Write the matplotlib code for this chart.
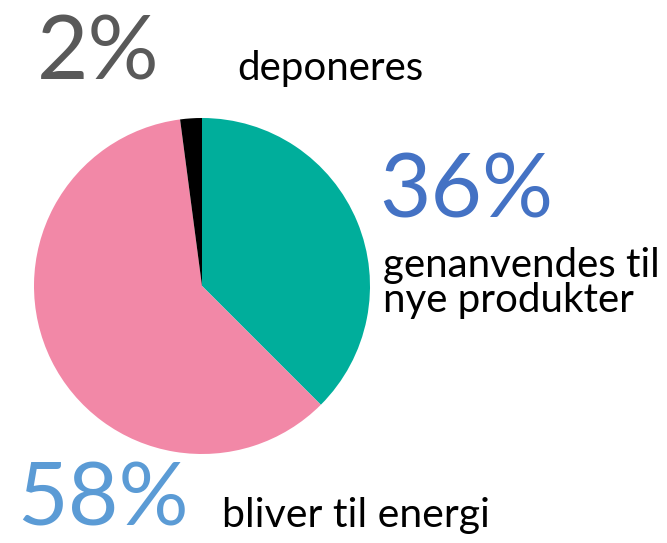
import matplotlib
matplotlib.use("Agg")
import matplotlib.pyplot as plt

categories = ["genanvendes til nye produkter", "bliver til energi", "deponeres"]
values = [36, 58, 2]
pct_labels = ["36%", "58%", "2%"]
colors = ["#00AE9B", "#F288A7", "#000000"]
pct_colors = ["#4472C4", "#5B9BD5", "#595959"]

W, H = 667, 543
fig = plt.figure(figsize=(W / 100, H / 100), dpi=100)
fig.patch.set_facecolor("white")

cx, cy, r = 202, 286, 168
ax = fig.add_axes([(cx - r) / W, (H - cy - r) / H, 2 * r / W, 2 * r / H])
ax.pie(values, colors=colors, startangle=90, counterclock=False,
       wedgeprops=dict(linewidth=0))
ax.set_xlim(-1, 1)
ax.set_ylim(-1, 1)
ax.set_aspect("equal")
ax.axis("off")

font = "Lato"

def t(x, y, s, size, color, ha="left"):
    fig.text(x / W, 1 - y / H, s, fontsize=size, color=color,
             family=font, ha=ha, va="baseline")

# deponeres
t(37, 79, pct_labels[2], 64, pct_colors[2])
t(237, 80, "deponeres", 29, "black")
# genanvendes
t(379, 217, pct_labels[0], 64, pct_colors[0])
t(383, 277, "genanvendes til", 29, "black")
t(383, 312, "nye produkter", 29, "black")
# energi
t(17, 526, pct_labels[1], 63, pct_colors[1])
t(222, 527, "bliver til energi", 29.5, "black")

fig.savefig("out.png", dpi=100)
